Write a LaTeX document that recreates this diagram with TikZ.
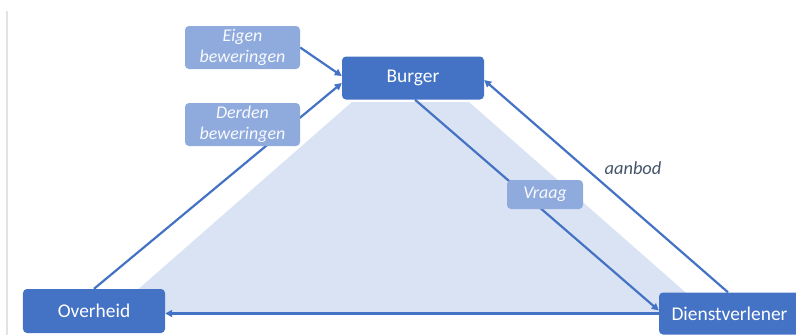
\documentclass[tikz,border=0pt]{standalone}
\usepackage{fontspec}
\setmainfont{Carlito}
\usetikzlibrary{arrows.meta}
\definecolor{boxblue}{HTML}{4472C4}
\definecolor{labelblue}{HTML}{8FAADC}
\definecolor{shadeblue}{HTML}{DAE3F3}
\definecolor{slate}{HTML}{44546A}
\definecolor{railgrey}{HTML}{E3E3E3}
\pgfdeclarelayer{back}
\pgfsetlayers{back,main}

\begin{document}
\begin{tikzpicture}[x=1bp,y=-1bp,
  actor/.style={fill=boxblue, rounded corners=4bp, minimum width=142bp,
    minimum height=43bp, text=white, inner sep=0,
    font=\fontsize{19.5}{21}\selectfont},
  claim/.style={fill=labelblue, rounded corners=4bp, text=white!94!labelblue,
    inner sep=0, align=center, font=\fontsize{18}{21}\selectfont\itshape},
  flow/.style={draw=boxblue, line width=2.2bp,
    -{Triangle[length=7bp,width=7bp]}},
  note/.style={text=slate, font=\fontsize{18.5}{20}\selectfont\itshape},
]
\useasboundingbox (0,0) rectangle (796,335);

% actors
\node[actor] (burger) at (413,78) {Burger};
\node[actor, minimum height=44bp] (overheid) at (94,311) {Overheid};
\node[actor, minimum width=141bp, minimum height=42bp] (dienst) at (729.5,313.5) {Dienstverlener};

% claims and labels
\node[claim, minimum width=115bp, minimum height=43bp] (eigen) at (242.5,47.5) {Eigen\\beweringen};
\node[claim, minimum width=115bp, minimum height=43bp] (derden) at (242.5,124.5) {Derden\\beweringen};
\node[claim, minimum width=76bp, minimum height=29bp] (vraag) at (545,194.5) {Vraag};
\node[note] (aanbod) at (633,168) {aanbod};

\begin{pgfonlayer}{back}
  % frame rule and shaded field
  \draw[railgrey, line width=2bp] (7,11) -- (7,335);
  \fill[shadeblue] (352,102) -- (469,102) -- (709,313) -- (111,313) -- cycle;
  % flows
  \draw[flow] (eigen.east) -- ([yshift=2bp]burger.west);
  \draw[flow] (overheid.north) -- ([yshift=-5bp]burger.west);
  \draw[flow] ([xshift=2bp]burger.south) -- ([yshift=3bp]dienst.west);
  \draw[flow] ([xshift=-1.5bp]dienst.north) -- ([yshift=-2bp]burger.east);
  \draw[flow] (dienst.west) -- (overheid.east |- dienst.west);
\end{pgfonlayer}
\end{tikzpicture}
\end{document}
